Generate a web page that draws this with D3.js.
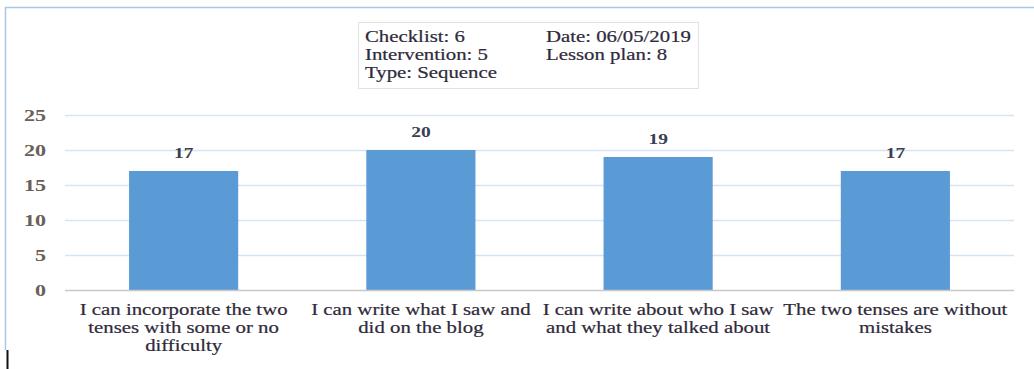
<!DOCTYPE html>
<html>
<head>
<meta charset="utf-8">
<script src="https://cdn.jsdelivr.net/npm/d3@7"></script>
<style>
  html, body { margin: 0; padding: 0; background: #fff; }
  svg { display: block; }
  text { font-family: "Liberation Serif", "Times New Roman", serif; }
</style>
</head>
<body>
<svg id="chart" width="1034" height="369"></svg>
<script>
// Checklist results per statement
const categories = [
  "I can incorporate the two\ntenses with some or no\ndifficulty",
  "I can write what I saw and\ndid on the blog",
  "I can write about who I saw\nand what they talked about",
  "The two tenses are without\nmistakes"
];
const values = [17, 20, 19, 17];
const yTicks = [0, 5, 10, 15, 20, 25];
const infoLeft = ["Checklist: 6", "Intervention: 5", "Type: Sequence"];
const infoRight = ["Date: 06/05/2019", "Lesson plan: 8"];

const svg = d3.select("#chart");
const W = 1034, H = 369;
const plot = { left: 65, right: 1014, top: 115, bottom: 290 };
const SX = 1.3; // wide lettering

// outer frame
svg.append("path")
  .attr("d", `M${W + 2},7.5 H5.5 V350`)
  .attr("fill", "none")
  .attr("stroke", "#a9c6e8")
  .attr("stroke-width", 1.5);
svg.append("line")
  .attr("x1", 7.5).attr("x2", 7.5).attr("y1", 350).attr("y2", H)
  .attr("stroke", "#111").attr("stroke-width", 2);

const x = d3.scaleBand()
  .domain(categories)
  .range([plot.left, plot.right])
  .paddingInner(0.54)
  .paddingOuter(0.27);

const y = d3.scaleLinear()
  .domain([0, 25])
  .range([plot.bottom, plot.top]);

// horizontal grid
svg.append("g")
  .selectAll("line")
  .data(yTicks.filter(d => d > 0))
  .join("line")
  .attr("x1", plot.left).attr("x2", plot.right)
  .attr("y1", d => y(d) + 0.5).attr("y2", d => y(d) + 0.5)
  .attr("stroke", "#d6e3f3").attr("stroke-width", 1.5);

// y tick labels
const yAxis = d3.axisLeft(y).tickValues(yTicks).tickSize(0).tickPadding(0);
const gy = svg.append("g").attr("transform", `translate(46,0)`).call(yAxis);
gy.select(".domain").remove();
gy.selectAll(".tick text")
  .attr("font-family", "Liberation Serif, serif")
  .attr("font-size", 17)
  .attr("font-weight", "bold")
  .attr("fill", "#6a6058")
  .attr("dy", "0.35em")
  .attr("transform", `scale(${SX},1)`);

// bars
svg.append("g")
  .selectAll("rect")
  .data(values)
  .join("rect")
  .attr("x", (d, i) => x(categories[i]))
  .attr("width", x.bandwidth())
  .attr("y", d => y(d))
  .attr("height", d => y(0) - y(d))
  .attr("fill", "#5b9bd5");

// value labels
svg.append("g")
  .selectAll("g")
  .data(values)
  .join("g")
  .attr("transform", (d, i) => `translate(${x(categories[i]) + x.bandwidth() / 2},${y(d) - 13}) scale(${SX},1)`)
  .append("text")
  .attr("text-anchor", "middle")
  .attr("font-size", 15)
  .attr("font-weight", "bold")
  .attr("fill", "#3a3f52")
  .text(d => d);

// baseline
svg.append("line")
  .attr("x1", plot.left).attr("x2", plot.right)
  .attr("y1", y(0) + 0.5).attr("y2", y(0) + 0.5)
  .attr("stroke", "#c8c8c8").attr("stroke-width", 1.5);

// category labels
const xAxis = d3.axisBottom(x).tickSize(0).tickPadding(0).tickFormat(() => "");
const gx = svg.append("g").attr("transform", `translate(0,${plot.bottom})`).call(xAxis);
gx.select(".domain").remove();
gx.selectAll(".tick").each(function (d) {
  const t = d3.select(this).append("text")
    .attr("text-anchor", "middle")
    .attr("font-family", "Liberation Serif, serif")
    .attr("font-size", 16)
    .attr("fill", "#2f2a3a")
    .attr("stroke", "#2f2a3a").attr("stroke-width", 0.2)
    .attr("transform", `scale(${SX},1)`);
  d.split("\n").forEach((line, i) => {
    t.append("tspan").attr("x", 0).attr("y", 25 + i * 18).text(line);
  });
});

// info box
const box = svg.append("g").attr("transform", "translate(358,22)");
box.append("rect")
  .attr("x", 0.5).attr("y", 0.5).attr("width", 340).attr("height", 66)
  .attr("fill", "#fff").attr("stroke", "#e2e2e2");
const infoText = (list, x0) => box.append("g")
  .attr("transform", `translate(${x0},0) scale(${SX},1)`)
  .selectAll("text").data(list).join("text")
  .attr("x", 0).attr("y", (d, i) => 20 + i * 18)
  .attr("font-size", 16).attr("fill", "#2e2a3c")
  .attr("stroke", "#2e2a3c").attr("stroke-width", 0.2)
  .text(d => d);
infoText(infoLeft, 7);
infoText(infoRight, 188);
</script>
</body>
</html>
